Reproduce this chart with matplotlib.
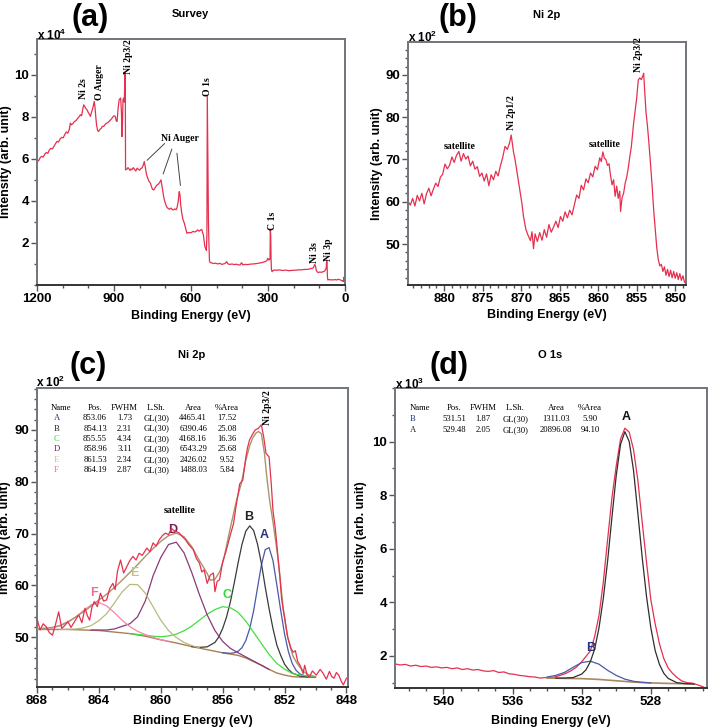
import matplotlib
matplotlib.use('Agg')
import matplotlib.pyplot as plt
from matplotlib.ticker import MultipleLocator

plt.rcParams['font.family'] = 'Liberation Sans'
plt.rcParams['font.weight'] = 'bold'
plt.rcParams['mathtext.default'] = 'regular'

RED = '#e5304f'

# ---------------- (a) survey ----------------
survey_be = [1200, 1194, 1188, 1182, 1176, 1170, 1164, 1158, 1152, 1146, 1140, 1134, 1128, 1122, 1116,
             1110, 1104, 1098, 1092, 1086, 1080, 1074, 1070, 1066, 1060, 1054, 1048, 1042, 1036, 1031,
             1026, 1022, 1018, 1014, 1010, 1005, 1000, 996, 992, 988, 984, 980, 977, 974, 971, 968,
             964, 960, 955, 950, 945, 940, 934, 928, 922, 916, 910, 905, 900, 895, 891, 888, 884, 880,
             877, 874, 871, 869, 867, 865, 862, 860, 858.5, 857, 856, 855, 850, 846, 843, 838, 834, 830,
             825, 820, 815, 810, 805, 800, 795, 791, 786, 782, 778, 774, 771, 766, 762, 758, 754, 750,
             745, 740, 736, 732, 727, 722, 717, 713, 709, 705, 700, 695, 690, 684, 678, 672, 668, 663,
             658, 655, 650, 646, 643, 640, 636, 631, 626, 621, 616, 610, 604, 598, 592, 586, 580, 574,
             568, 562, 558, 555, 552, 549, 546, 543, 540, 538, 536.5, 535, 533.5, 532, 530, 528, 525,
             520, 512, 504, 496, 488, 480, 474, 468, 461, 456, 448, 440, 432, 424, 416, 409, 403, 398,
             390, 380, 370, 360, 350, 340, 330, 320, 312, 305, 301, 297, 294, 292, 291, 289.5, 288,
             286.5, 284, 280, 272, 264, 256, 248, 240, 230, 220, 210, 200, 190, 180, 170, 160, 150,
             142, 136, 130, 125, 121, 118, 115, 112, 108, 104, 98, 92, 86, 80, 76, 73, 71.5, 70, 68.5,
             67, 62, 56, 50, 44, 38, 32, 26, 20, 14, 9, 6.6, 4, 2, 0]
survey_int = [5.95, 5.90, 6.05, 6.12, 6.08, 6.22, 6.30, 6.26, 6.42, 6.50, 6.47, 6.60, 6.72, 6.83, 6.80,
              6.95, 7.02, 7.00, 7.15, 7.28, 7.22, 7.40, 7.70, 7.62, 7.68, 7.78, 7.82, 7.92, 8.00, 8.10,
              8.05, 8.35, 8.57, 8.48, 8.40, 8.33, 8.20, 8.12, 8.02, 8.20, 8.35, 8.55, 8.73, 8.45, 8.00, 7.62,
              7.35, 7.30, 7.40, 7.45, 7.55, 7.54, 7.65, 7.70, 7.75, 7.82, 7.90, 7.98, 8.05, 8.02, 7.80, 7.78, 8.40, 8.80,
              8.86, 8.89, 8.20, 7.06, 7.60, 8.81, 8.89, 8.70, 9.40, 10.10, 10.05, 5.48, 5.50, 5.58, 5.56, 5.45, 5.52, 5.48,
              5.58, 5.50, 5.42, 5.56, 5.50, 5.46, 5.55, 5.56, 5.70, 5.87, 5.60, 5.30, 5.16, 5.00, 4.90, 4.84, 4.68, 4.55,
              4.52, 4.62, 4.70, 4.76, 4.80, 4.88, 5.00, 4.70, 4.37, 4.10, 3.89, 3.72, 3.65, 3.60, 3.66, 3.58, 3.57, 3.62,
              3.58, 3.65, 3.95, 4.44, 4.30, 3.80, 3.41, 3.10, 2.94, 2.70, 2.46, 2.50, 2.48, 2.50, 2.55, 2.52, 2.55, 2.62,
              2.56, 2.62, 2.64, 2.50, 2.40, 2.10, 1.82, 1.75, 1.65, 2.40, 8.97, 6.80, 4.50, 3.00, 1.90, 1.15, 1.07,
              1.05, 1.02, 1.04, 1.00, 1.03, 0.98, 1.00, 1.02, 1.11, 1.00, 0.98, 1.00, 0.97, 0.99, 0.96, 0.95, 1.06, 0.96,
              0.98, 0.97, 0.99, 1.00, 1.01, 1.03, 1.05, 1.08, 1.11, 1.15, 1.27, 1.19, 1.20, 1.30, 2.62, 2.40, 1.20,
              0.72, 0.63, 0.70, 0.71, 0.70, 0.72, 0.70, 0.69, 0.71, 0.68, 0.69, 0.70, 0.71, 0.72, 0.72, 0.74, 0.74,
              0.75, 0.77, 0.79, 0.80, 0.88, 0.98, 0.90, 0.70, 0.62, 0.59, 0.62, 0.60, 0.63, 0.66, 0.72, 0.82, 1.19, 1.05, 0.40,
              0.24, 0.26, 0.24, 0.25, 0.24, 0.26, 0.24, 0.27, 0.25, 0.22, 0.19, 0.16, 0.37, 0.22, 0.16]
survey_peaks = [("Ni 2s", 1017, 9.33), ("O Auger", 958, 9.64), ("Ni 2p3/2", 845, 10.86),
                ("O 1s", 534, 9.43), ("C 1s", 284, 3.05), ("Ni 3s", 117, 1.52), ("Ni 3p", 66, 1.67)]

# ---------------- (b) Ni 2p raw ----------------
ni_be = [884.7, 884.4, 884.1, 883.8, 883.5, 883.2, 882.9, 882.6, 882.3, 882.0, 881.7, 881.4, 881.1, 880.8,
         880.5, 880.2, 879.9, 879.6, 879.3, 879.0, 878.7, 878.4, 878.1, 877.8, 877.5, 877.2, 876.9, 876.6,
         876.3, 876.0, 875.7, 875.4, 875.1, 874.8, 874.5, 874.2, 873.9, 873.6, 873.3, 873.0, 872.7, 872.4,
         872.1, 871.8, 871.5, 871.3, 871.0, 870.8, 870.5, 870.2, 869.9, 869.7, 869.4, 869.1, 868.8, 868.6,
         868.4, 868.2, 867.9, 867.6, 867.3, 867.0, 866.7, 866.4, 866.1, 865.8, 865.5, 865.2, 864.9, 864.6,
         864.3, 864.0, 863.7, 863.4, 863.1, 862.8, 862.5, 862.2, 861.9, 861.6, 861.3, 861.0, 860.7, 860.4,
         860.1, 859.8, 859.6, 859.4, 859.2, 859.0, 858.8, 858.6, 858.4, 858.2, 858.0, 857.8, 857.6, 857.4,
         857.2, 857.1, 856.9, 856.7, 856.5, 856.3, 856.1, 855.9, 855.7, 855.4, 855.2, 855.0, 854.8, 854.6,
         854.4, 854.2, 854.1, 853.95, 853.8, 853.6, 853.45, 853.25, 853.0, 852.8, 852.6, 852.4, 852.2,
         852.0, 851.8, 851.6, 851.4, 851.2, 851.0, 850.8, 850.6, 850.4, 850.2, 850.0, 849.8, 849.6, 849.4,
         849.2, 849.0, 848.8, 848.6]
ni_int = [60.1, 59.2, 60.8, 59.0, 61.5, 60.2, 62.0, 59.5, 61.9, 63.2, 61.4, 63.0, 64.4, 63.6,
          65.8, 66.5, 68.9, 67.8, 68.6, 70.6, 69.3, 71.0, 71.9, 69.6, 71.4, 70.1, 70.8, 68.5,
          69.6, 67.7, 68.3, 66.0, 66.8, 64.9, 66.6, 63.8, 66.4, 65.2, 67.2, 66.1, 68.5, 70.5,
          73.1, 72.4, 74.0, 75.8, 71.8, 70.0, 66.5, 63.0, 59.5, 56.5, 53.5, 52.0, 50.8, 52.9,
          48.9, 52.4, 50.6, 52.7, 50.9, 53.4, 51.6, 54.6, 52.8, 54.0, 55.4, 53.9, 56.5, 55.4,
          57.6, 56.2, 58.0, 56.9, 59.3, 61.6, 60.8, 63.9, 62.8, 65.4, 64.5, 66.8, 65.9, 68.4,
          67.6, 70.4, 69.5, 71.8, 70.3, 70.0, 68.6, 69.0, 66.2, 64.0, 65.2, 61.3, 63.7, 60.8,
          62.5, 57.7, 61.0, 62.0, 64.4, 65.8, 68.0, 70.6, 73.0, 78.6, 81.6, 84.6, 88.8, 89.3,
          88.9, 89.8, 90.4, 86.0, 81.3, 77.8, 74.6, 70.0, 63.8, 58.1, 53.5, 49.2, 46.3,
          44.8, 45.2, 43.5, 44.6, 42.6, 44.0, 42.3, 43.8, 42.0, 43.5, 41.9, 43.2, 41.6, 43.0,
          41.4, 42.5, 41.0, 40.6]

# ---------------- (c) Ni 2p fitted ----------------
c_raw_be = [868.0, 867.8, 867.6, 867.4, 867.2, 867.0, 866.8, 866.6, 866.4, 866.2, 866.0, 865.8, 865.7, 865.5,
            865.3, 865.1, 864.9, 864.75, 864.6, 864.45, 864.3, 864.1, 863.9, 863.7, 863.5, 863.3, 863.1,
            862.95, 862.8, 862.6, 862.4, 862.2, 862.0, 861.8, 861.6, 861.4, 861.2, 860.9, 860.7, 860.5,
            860.3, 860.1, 859.9, 859.7, 859.5, 859.3, 859.2, 859.0, 858.8, 858.6, 858.4, 858.2, 857.9,
            857.7, 857.5, 857.35, 857.2, 857.0, 856.8, 856.6, 856.5, 856.35, 856.2, 856.0, 855.8, 855.66,
            855.5, 855.3, 855.15, 855.0, 854.9, 854.7, 854.5, 854.4, 854.26, 854.1, 853.9, 853.7, 853.5,
            853.35, 853.2, 853.0, 852.86, 852.75, 852.6, 852.5, 852.4, 852.3, 852.2, 852.1, 852.0, 851.8,
            851.6, 851.45, 851.3, 851.15, 851.0, 850.8, 850.7, 850.55, 850.4, 850.2, 849.95, 849.7, 849.5,
            849.3, 849.1, 848.95, 848.8, 848.65, 848.5, 848.35, 848.2, 848.0]
c_raw_int = [53.6, 51.4, 52.6, 52.0, 50.9, 50.4, 52.5, 54.9, 51.7, 52.3, 53.0, 51.9, 52.4, 53.4,
             54.3, 52.8, 55.6, 54.2, 53.3, 55.8, 56.9, 55.9, 58.5, 57.0, 57.2, 59.4, 60.4,
             59.2, 62.7, 64.9, 62.4, 63.6, 64.8, 65.6, 64.9, 66.2, 65.8, 67.2, 66.5, 68.2,
             67.6, 68.8, 69.6, 70.1, 69.8, 71.0, 70.7, 70.4, 70.1, 69.4, 68.8, 67.9, 66.9,
             65.2, 64.3, 62.6, 63.0, 60.4, 62.0, 62.4, 58.8, 60.8, 61.1, 64.6, 66.4, 68.0,
             69.8, 71.9, 75.0, 77.7, 79.6, 80.3, 84.8, 86.5, 88.1, 89.0, 90.0, 90.3, 91.0,
             88.7, 85.5, 84.8, 79.6, 74.5, 71.0, 68.0, 64.5, 61.6, 57.7, 55.5, 53.9, 50.0,
             48.0, 47.1, 47.4, 45.3, 44.6, 43.0, 44.6, 42.8, 42.3, 43.5, 42.7, 43.8, 43.0,
             41.9, 43.4, 42.4, 42.1, 43.2, 42.7, 41.6, 40.8, 42.1]
c_env_be = [868, 867, 866.5, 866, 865.5, 865, 864.5, 864, 863.5, 863, 862.5, 862, 861.5, 861, 860.5, 860,
            859.5, 859, 858.5, 858, 857.5, 857, 856.8, 856.5, 856.2, 855.96, 855.55, 855.1, 854.8, 854.5,
            854.25, 854.05, 853.85, 853.7, 853.5, 853.3, 853.15, 852.97, 852.75, 852.55, 852.4, 852.25,
            852.1, 851.95, 851.8, 851.6, 851.45, 851.2, 851.0, 850.7, 850.4, 850.0]
c_env_int = [51.6, 51.9, 52.3, 53.0, 53.9, 54.9, 56.0, 57.2, 58.3, 59.6, 61.0, 62.5, 64.0, 65.6, 67.1, 68.5,
             69.6, 70.1, 69.4, 67.5, 64.8, 62.3, 61.0, 61.2, 62.6, 64.7, 70.5, 76.5, 79.6, 84.2,
             87.0, 88.5, 89.4, 89.7, 89.3, 85.5, 81.0, 76.5, 72.3, 68.0, 64.7, 60.3,
             55.9, 52.7, 50.1, 47.8, 46.3, 45.0, 44.2, 43.2, 42.7, 42.4]
c_bg_be = [868, 866, 864, 863, 862, 861, 860, 859, 858, 857, 856, 855, 854.5, 854, 853.5, 853, 852.5,
           852, 851.5, 851, 850.5, 850]
c_bg_int = [51.5, 51.5, 51.3, 51.0, 50.7, 50.2, 49.5, 48.9, 48.2, 47.6, 47.0, 46.5, 46.0, 45.3, 44.6,
            43.8, 43.1, 42.7, 42.4, 42.3, 42.3, 42.3]
cA_be = [856.0, 855.5, 855.25, 855.0, 854.75, 854.5, 854.25, 854.0, 853.75, 853.5, 853.25, 853.0, 852.75,
         852.5, 852.25, 852.0, 851.75, 851.5, 851.25, 851.0, 850.5, 850.0]
cA_int = [47.0, 46.9, 47.0, 47.3, 48.0, 49.4, 51.7, 55.1, 59.5, 63.9, 66.9, 67.3, 64.8,
          60.1, 55.2, 50.6, 47.2, 44.9, 43.6, 42.9, 42.4, 42.3]
cB_be = [858.0, 857.5, 857.0, 856.5, 856.25, 856.0, 855.75, 855.5, 855.25, 855.0, 854.75, 854.5, 854.25,
         854.0, 853.75, 853.5, 853.25, 853.0, 852.75, 852.5, 852.25, 852.0, 851.75, 851.5, 851.0, 850.5]
cB_int = [48.2, 48.05, 48.15, 49.0, 50.05, 51.7, 53.9, 56.85, 60.5, 64.4, 67.95, 70.5, 71.5,
          70.6, 68.0, 64.3, 59.7, 55.5, 51.7, 48.5, 46.5, 44.8, 43.8, 43.1, 42.5, 42.35]
cC_be = [862.0, 861.5, 861.0, 860.5, 860.0, 859.5, 859.0, 858.5, 858.0, 857.5, 857.0, 856.5, 856.0, 855.5,
         855.0, 854.5, 854.0, 853.5, 853.0, 852.5, 852.0, 851.5, 851.0, 850.5, 850.0]
cC_int = [50.7, 50.55, 50.4, 50.2, 50.1, 50.25, 50.6, 51.25, 52.15, 53.3, 54.45, 55.35, 55.9, 55.7,
          54.8, 53.1, 50.95, 48.8, 46.7, 44.95, 43.85, 43.0, 42.7, 42.5, 42.4]
cD_be = [864.5, 864.0, 863.5, 863.0, 862.5, 862.0, 861.5, 861.0, 860.5, 860.0, 859.5, 859.0, 858.5, 858.0,
         857.5, 857.0, 856.5, 856.0, 855.5, 855.0, 854.5, 854.0, 853.5, 853.0]
cD_int = [51.4, 51.4, 51.4, 51.6, 52.1, 52.6, 53.95, 57.0, 61.85, 65.4, 67.9, 68.35, 66.3, 62.5,
          58.2, 54.3, 51.3, 49.2, 47.85, 47.0, 46.2, 45.4, 44.6, 43.8]
cE_be = [866.5, 866.0, 865.5, 865.0, 864.5, 864.0, 863.5, 863.0, 862.5, 862.0, 861.5, 861.0, 860.5, 860.0,
         859.5, 859.0, 858.5, 858.0, 857.5]
cE_int = [51.5, 51.55, 51.6, 51.8, 52.25, 53.2, 54.55, 56.6, 58.75, 60.2, 60.15, 58.5, 55.9, 53.3,
          51.3, 49.95, 49.0, 48.4, 47.95]
cF_be = [868.0, 867.5, 867.0, 866.5, 866.0, 865.5, 865.0, 864.5, 864.0, 863.5, 863.0, 862.5, 862.0, 861.5,
         861.0, 860.5, 860.0, 859.5]
cF_int = [51.55, 51.6, 51.8, 52.2, 52.85, 53.9, 55.15, 56.25, 56.7, 56.05, 54.75, 53.3, 52.05, 51.15,
          50.5, 49.95, 49.55, 49.2]
c_names = ["A", "B", "C", "D", "E", "F"]
c_pos = ["853.06", "854.13", "855.55", "858.96", "861.53", "864.19"]
c_fwhm = ["1.73", "2.31", "4.34", "3.11", "2.34", "2.87"]
c_area = ["4465.41", "6390.46", "4168.16", "6543.29", "2426.02", "1488.03"]
c_pct = ["17.52", "25.08", "16.36", "25.68", "9.52", "5.84"]
c_label_pos = [(853.3, 69.7), (854.3, 73.2), (855.7, 58.1), (859.2, 70.7), (861.7, 62.4), (864.3, 58.5)]

# ---------------- (d) O 1s fitted ----------------
o_raw_be = [542.8, 542.5, 542.2, 541.9, 541.6, 541.3, 541.0, 540.7, 540.4, 540.1, 539.8, 539.5, 539.2,
            538.9, 538.6, 538.3, 538.0, 537.7, 537.4, 537.1, 536.8, 536.5, 536.2, 535.9, 535.6, 535.3,
            535.0, 534.7, 534.4, 534.1, 533.8, 533.5, 533.2, 532.9, 532.6, 532.3, 532.0, 531.75, 531.5,
            531.25, 531.0, 530.75, 530.5, 530.25, 530.0, 529.75, 529.5, 529.25, 529.0, 528.75, 528.5,
            528.25, 528.0, 527.75, 527.5, 527.25, 527.0, 526.75, 526.5, 526.2, 525.9, 525.6, 525.3,
            525.0, 524.8]
o_raw_int = [1.70, 1.66, 1.68, 1.62, 1.65, 1.60, 1.62, 1.57, 1.59, 1.55, 1.57, 1.52, 1.55,
             1.49, 1.52, 1.47, 1.49, 1.44, 1.42, 1.45, 1.38, 1.40, 1.33, 1.31, 1.27, 1.25,
             1.22, 1.21, 1.17, 1.19, 1.18, 1.22, 1.28, 1.35, 1.45, 1.58, 1.78, 1.98, 2.18,
             2.72, 3.50, 4.75, 6.34, 7.90, 9.10, 10.10, 10.50, 10.35, 9.70, 8.55, 7.00,
             5.50, 4.10, 3.20, 2.45, 1.90, 1.55, 1.35, 1.20, 1.06, 1.00, 0.98, 0.92,
             0.85, 0.79]
o_bg_be = [534.0, 533.0, 532.0, 531.0, 530.0, 529.0, 528.0, 527.0, 526.0, 525.5]
o_bg_int = [1.17, 1.16, 1.15, 1.12, 1.07, 1.02, 0.99, 0.97, 0.96, 0.95]
oA_be = [533.5, 533.0, 532.5, 532.0, 531.75, 531.5, 531.25, 531.0, 530.75, 530.5, 530.25, 530.0, 529.75,
         529.5, 529.25, 529.0, 528.75, 528.5, 528.25, 528.0, 527.75, 527.5, 527.25, 527.0, 526.5, 526.0,
         525.5]
oA_int = [1.17, 1.17, 1.19, 1.32, 1.48, 1.78, 2.25, 3.04, 4.14, 5.54, 7.17, 8.74, 9.90,
          10.37, 10.00, 8.92, 7.32, 5.68, 4.22, 3.05, 2.20, 1.68, 1.35, 1.16, 1.00, 0.96,
          0.95]
oB_be = [534.0, 533.5, 533.0, 532.5, 532.0, 531.5, 531.0, 530.5, 530.0, 529.5, 529.0, 528.5, 528.0]
oB_int = [1.21, 1.27, 1.38, 1.57, 1.75, 1.80, 1.69, 1.46, 1.27, 1.13, 1.05, 1.01, 0.99]
o_names = ["B", "A"]
o_pos = ["531.51", "529.48"]
o_fwhm = ["1.87", "2.05"]
o_area = ["1311.03", "20896.08"]
o_pct = ["5.90", "94.10"]

W, H = 709, 727
fig = plt.figure(figsize=(W / 100, H / 100), dpi=100)


def ax_box(left, top, right, bottom):
    return fig.add_axes([left / W, 1 - bottom / H, (right - left) / W, (bottom - top) / H])


def fig_text(x, y, s, **kw):
    fig.text(x / W, 1 - y / H, s, ha='center', va='center', **kw)


def style(ax, xlim, ylim, xmaj, xmin, ymaj, ymin, yticks, ylab_xy, xlab_xy):
    ax.set_xlim(*xlim)
    ax.set_ylim(*ylim)
    ax.xaxis.set_major_locator(MultipleLocator(xmaj))
    ax.xaxis.set_minor_locator(MultipleLocator(xmin))
    ax.set_yticks(yticks)
    ax.yaxis.set_minor_locator(MultipleLocator(ymin))
    ax.tick_params(which='both', direction='out', color='#555555', width=1.0)
    ax.tick_params(which='major', length=4, labelsize=9.5, pad=1.5)
    ax.tick_params(which='minor', length=2.5)
    for s in ax.spines.values():
        s.set_color('#6f757b')
        s.set_linewidth(1.4)
    ax.spines['bottom'].set_color('#333333')
    ax.set_ylabel('Intensity (arb. unit)', fontsize=9, fontweight='bold')
    ax.set_xlabel('Binding Energy (eV)', fontsize=9, fontweight='bold')
    ax.yaxis.set_label_coords(*ylab_xy)
    ax.xaxis.set_label_coords(*xlab_xy)


serif = dict(family='Liberation Serif', fontweight='bold', fontsize=7)

# (a)
axa = ax_box(37, 39, 345, 285)
axa.plot(survey_be, survey_int, color=RED, lw=0.9)
style(axa, (1200, 0), (0, 11.7), 300, 100, 2, 1, [2, 4, 6, 8, 10], (-0.08, 0.5), (0.5, -0.10))
for name, x, y in survey_peaks:
    axa.text(x, y, name, rotation=90, ha='center', va='center', **serif)
axa.text(643, 6.95, 'Ni Auger', ha='center', va='center', **serif)
for (x0, y0, x1, y1) in [(695, 6.82, 779, 5.84), (671, 6.59, 712, 5.16), (656, 6.4, 640, 4.6)]:
    axa.annotate('', xy=(x1, y1), xytext=(x0, y0),
                 arrowprops=dict(arrowstyle='-', color='#444444', lw=0.7))
fig_text(90, 18, '(a)', fontsize=22, fontweight='bold')
fig_text(190, 14, 'Survey', fontsize=8, fontweight='bold')
fig.text(37 / W, 1 - 35 / H, r'x 10$^4$', ha='left', va='center', fontsize=8.5)

# (b)
axb = ax_box(408, 42, 686, 285)
axb.plot(ni_be, ni_int, color=RED, lw=0.9)
style(axb, (884.7, 848.6), (40.3, 97.8), 5, 1, 10, 2, [50, 60, 70, 80, 90], (-0.09, 0.5), (0.5, -0.10))
axb.text(878.05, 73.0, 'satellite', ha='center', va='center', **serif)
axb.text(859.2, 73.5, 'satellite', ha='center', va='center', **serif)
axb.text(871.3, 81.0, 'Ni 2p1/2', rotation=90, ha='center', va='center', **serif)
axb.text(854.8, 94.7, 'Ni 2p3/2', rotation=90, ha='center', va='center', **serif)
fig_text(458, 18, '(b)', fontsize=22, fontweight='bold')
fig_text(547, 15, 'Ni 2p', fontsize=8, fontweight='bold')
fig.text(408 / W, 1 - 37 / H, r'x 10$^2$', ha='left', va='center', fontsize=8.5)

# (c)
axc = ax_box(37, 388, 348, 687)
comp_cols = ['#4a58a8', '#3a3a3a', '#3fe03f', '#8a3a78', '#b9b97e', '#f287b0']
name_cols = ['#27337e', '#222222', '#35d835', '#7a1a55', '#c4c48a', '#f06a9a']
axc.plot(c_bg_be, c_bg_int, color='#a77f55', lw=1.0, zorder=2)
for xs, ys, col in zip([cA_be, cB_be, cC_be, cD_be, cE_be, cF_be],
                       [cA_int, cB_int, cC_int, cD_int, cE_int, cF_int], comp_cols):
    axc.plot(xs, ys, color=col, lw=0.9, zorder=3)
axc.plot(c_env_be, c_env_int, color='#a8966a', lw=1.0, zorder=3)
axc.plot(c_raw_be, c_raw_int, color=RED, lw=0.9, zorder=4)
style(axc, (868, 847.9), (40.4, 98.1), 4, 1, 10, 2, [50, 60, 70, 80, 90], (-0.085, 0.5), (0.5, -0.094))
tab = dict(family='Liberation Serif', fontweight='normal', fontsize=6.2, transform=axc.transAxes,
           va='center')
cols_c = [0.045, 0.1865, 0.281, 0.383, 0.502, 0.611]
rows_c = [0.932, 0.899, 0.864, 0.829, 0.795, 0.760, 0.726]
for x, h in zip(cols_c, ['Name', 'Pos.', 'FWHM', 'L.Sh.', 'Area', '%Area']):
    axc.text(x, rows_c[0], h, ha='left' if h == 'Name' else 'center', **tab)
for i in range(len(c_names)):
    y = rows_c[i + 1]
    axc.text(cols_c[0] + 0.01, y, c_names[i], ha='left', color=name_cols[i], **tab)
    for x, v in zip(cols_c[1:], [c_pos[i], c_fwhm[i], 'GL(30)', c_area[i], c_pct[i]]):
        axc.text(x, y, v, ha='center', **tab)
for (x, y), n, col in zip(c_label_pos, c_names, name_cols):
    axc.text(x, y, n, ha='center', va='center', fontsize=9, fontweight='bold', color=col)
axc.text(858.8, 74.4, 'satellite', ha='center', va='center', **serif)
axc.text(853.1, 94.4, 'Ni 2p3/2', rotation=90, ha='center', va='center', **serif)
fig_text(88, 366, '(c)', fontsize=22, fontweight='bold')
fig_text(192, 355, 'Ni 2p', fontsize=8, fontweight='bold')
fig.text(36 / W, 1 - 382 / H, r'x 10$^2$', ha='left', va='center', fontsize=8.5)

# (d)
axd = ax_box(395, 388, 707, 688)
axd.plot(o_raw_be, o_raw_int, color=RED, lw=0.9, zorder=2)
axd.plot(o_bg_be, o_bg_int, color='#a88a5e', lw=1.2, zorder=3)
axd.plot(oB_be, oB_int, color='#4a58a8', lw=0.9, zorder=3)
axd.plot(oA_be, oA_int, color='#2e2e2e', lw=0.9, zorder=4)
style(axd, (542.8, 524.75), (0.8, 12.0), 4, 1, 2, 1, [2, 4, 6, 8, 10], (-0.09, 0.5), (0.5, -0.09))
tabd = dict(tab, transform=axd.transAxes)
cols_d = [0.048, 0.191, 0.282, 0.386, 0.516, 0.625]
rows_d = [0.933, 0.896, 0.86]
for x, h in zip(cols_d, ['Name', 'Pos.', 'FWHM', 'L.Sh.', 'Area', '%Area']):
    axd.text(x, rows_d[0], h, ha='left' if h == 'Name' else 'center', **tabd)
for i, col in enumerate(['#27337e', '#222222']):
    y = rows_d[i + 1]
    axd.text(cols_d[0], y, o_names[i], ha='left', color=col, **tabd)
    for x, v in zip(cols_d[1:], [o_pos[i], o_fwhm[i], 'GL(30)', o_area[i], o_pct[i]]):
        axd.text(x, y, v, ha='center', **tabd)
axd.text(529.45, 10.9, 'A', ha='center', va='center', fontsize=9, fontweight='bold', color='#111111')
axd.text(531.5, 2.3, 'B', ha='center', va='center', fontsize=9, fontweight='bold', color='#27337e')
fig_text(449, 366, '(d)', fontsize=22, fontweight='bold')
fig_text(550, 355, 'O 1s', fontsize=8, fontweight='bold')
fig.text(395 / W, 1 - 384 / H, r'x 10$^3$', ha='left', va='center', fontsize=8.5)

fig.savefig('out.png', dpi=100)
